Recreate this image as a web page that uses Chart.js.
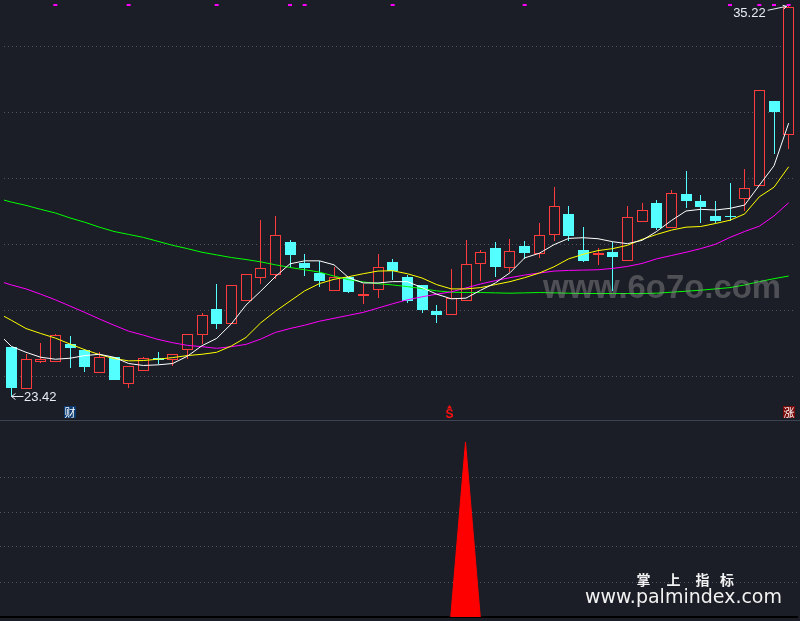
<!DOCTYPE html>
<html>
<head>
<meta charset="utf-8">
<script src="https://cdn.jsdelivr.net/npm/chart.js@4.4.0/dist/chart.umd.min.js"></script>
<style>
    html, body { margin: 0; padding: 0; background: #1b1e26; }
    #wrap { width: 800px; height: 621px; overflow: hidden; }
    canvas { display: block; }
    #sep { height: 1px; background: #3d4451; }
</style>
</head>
<body>
<div id="wrap">
    <canvas id="priceChart" width="800" height="420"></canvas>
    <div id="sep"></div>
    <canvas id="signalChart" width="800" height="200"></canvas>
</div>
<script>
const BG = '#1b1e26';
const UP = '#ff3c3c';
const DOWN = '#54ffff';
const GRID = '#50555f';

// daily candles, oldest first
const opens  = [24.89, 23.64, 24.45, 24.45, 24.98, 24.80, 24.10, 24.59, 23.77, 24.17,
                24.56, 24.50, 24.82, 25.27, 26.05, 25.60, 26.28, 26.99, 27.08, 28.09,
                27.44, 27.15, 26.61, 27.01, 26.46, 26.64, 27.48, 27.03, 26.79, 25.99,
                25.86, 26.28, 27.41, 27.91, 27.29, 27.97, 27.71, 28.30, 28.93, 27.83,
                27.69, 27.77, 27.50, 28.69, 29.26, 28.50, 29.53, 29.32, 28.87, 28.87,
                29.37, 29.79, 32.35, 31.31];
const closes = [23.67, 24.53, 24.55, 25.25, 24.87, 24.28, 24.59, 23.89, 24.32, 24.56,
                24.51, 24.70, 25.28, 25.86, 25.61, 26.78, 27.11, 27.29, 28.30, 27.69,
                27.28, 26.90, 27.02, 26.56, 26.52, 27.32, 27.21, 26.30, 26.03, 25.88,
                26.38, 27.41, 27.77, 27.31, 27.82, 27.76, 28.30, 29.16, 28.25, 27.52,
                27.74, 27.63, 28.84, 29.04, 28.50, 29.55, 29.33, 29.15, 28.73, 28.84,
                29.73, 32.70, 32.03, 35.20];
const highs  = [24.90, 24.68, 25.02, 25.29, 25.22, 24.83, 24.74, 24.59, 24.32, 24.59,
                24.74, 24.70, 25.28, 25.93, 26.82, 26.78, 27.11, 28.75, 28.88, 28.15,
                27.71, 27.51, 27.33, 27.01, 26.81, 27.71, 27.57, 27.09, 26.79, 26.17,
                27.27, 28.13, 27.85, 28.09, 28.16, 28.12, 28.67, 29.74, 29.17, 28.54,
                27.91, 28.09, 29.17, 29.26, 29.35, 29.65, 30.24, 29.50, 29.32, 29.88,
                30.30, 32.70, 32.35, 35.22];
const lows   = [23.42, 23.64, 24.42, 24.45, 24.25, 24.13, 24.10, 23.89, 23.65, 24.17,
                24.40, 24.32, 24.54, 24.99, 25.44, 25.60, 26.28, 26.80, 26.97, 27.32,
                27.04, 26.71, 26.61, 26.53, 26.21, 26.37, 26.94, 26.24, 25.94, 25.64,
                25.86, 26.28, 26.89, 27.03, 27.17, 27.58, 27.59, 28.10, 28.11, 27.46,
                27.37, 26.59, 27.50, 28.69, 28.44, 28.50, 29.12, 28.67, 28.67, 28.73,
                29.01, 29.79, 30.74, 30.90];

// moving averages: first value is where the line enters at the left edge, then one per candle
const ma5  = [25.14, 24.92, 24.74, 24.59, 24.53, 24.56, 24.64, 24.68, 24.59, 24.40, 24.34,
              24.36, 24.40, 24.62, 24.94, 25.16, 25.60, 26.17, 26.59, 27.03, 27.42,
              27.51, 27.51, 27.39, 27.00, 26.84, 26.84, 26.88, 26.88, 26.70, 26.50,
              26.36, 26.38, 26.62, 26.84, 27.15, 27.60, 27.74, 28.00, 28.19, 28.21,
              28.18, 28.09, 28.03, 28.13, 28.40, 28.73, 29.02, 29.07, 29.05, 29.10,
              29.20, 29.80, 30.39, 31.68];
const ma10 = [25.83, 25.71, 25.46, 25.31, 25.17, 24.99, 24.82, 24.67, 24.55, 24.48, 24.49,
              24.53, 24.58, 24.64, 24.68, 24.74, 24.93, 25.19, 25.63, 25.98, 26.29,
              26.60, 26.82, 26.95, 27.03, 27.12, 27.20, 27.21, 27.12, 26.99, 26.79,
              26.66, 26.66, 26.70, 26.79, 26.88, 27.00, 27.14, 27.33, 27.57, 27.71,
              27.82, 27.88, 27.98, 28.16, 28.31, 28.44, 28.53, 28.55, 28.64, 28.74,
              28.93, 29.45, 29.74, 30.36];
const ma20 = [26.85, 26.78, 26.66, 26.50, 26.33, 26.14, 25.95, 25.75, 25.56, 25.38, 25.26,
              25.13, 25.03, 24.95, 24.91, 24.86, 24.91, 24.98, 25.14, 25.34, 25.46,
              25.56, 25.68, 25.77, 25.86, 25.95, 26.08, 26.21, 26.33, 26.42, 26.50,
              26.57, 26.69, 26.81, 26.91, 27.00, 27.08, 27.14, 27.20, 27.22, 27.23,
              27.24, 27.28, 27.34, 27.43, 27.57, 27.67, 27.77, 27.88, 28.01, 28.22,
              28.40, 28.56, 28.87, 29.27];
const ma60 = [29.35, 29.29, 29.19, 29.07, 28.96, 28.81, 28.68, 28.53, 28.40, 28.31, 28.22,
              28.10, 27.98, 27.88, 27.77, 27.69, 27.61, 27.55, 27.48, 27.39, 27.31,
              27.24, 27.17, 27.05, 26.94, 26.87, 26.82, 26.78, 26.73, 26.67, 26.60,
              26.56, 26.55, 26.55, 26.54, 26.53, 26.54, 26.55, 26.54, 26.53, 26.52,
              26.52, 26.52, 26.52, 26.52, 26.53, 26.56, 26.59, 26.62, 26.66, 26.70,
              26.78, 26.88, 26.97, 27.05];

// candles whose magenta marker sits clipped at the top edge
const topMarks = [3, 8, 14, 19, 20, 26, 35, 49, 51, 52, 53];

// lower pane signal
const signalIdx  = [30, 31, 32];
const signalVals = [0, 5, 0];

// small tags under the candles
const tags = [
    { idx: 4, text: '财', box: '#0b3a70' },
    { idx: 53, text: '涨', box: '#7a0a0a' }
];
const sellIdx = 30;

const PRICE_MIN = 22.81, PRICE_MAX = 35.29;

const isUp = closes.map((c, i) => c >= opens[i]);
const candleColor = isUp.map(u => u ? UP : DOWN);

function maPoints(arr) {
    return arr.map((v, k) => ({ x: k === 0 ? -0.5 : k - 1, y: v }));
}

function lineSet(arr, color) {
    return { type: 'line', data: maPoints(arr), borderColor: color, borderWidth: 1,
             pointRadius: 0, tension: 0, fill: false, order: 2 };
}

const xAxis = () => ({ type: 'linear', min: -0.5, max: opens.length - 0.5, display: false, offset: false });

// keep candle edges on whole pixels so the thin outlines stay sharp
const snapBars = {
    id: 'snapBars',
    afterDatasetsUpdate(chart) {
        chart.data.datasets.forEach((ds, di) => {
            const meta = chart.getDatasetMeta(di);
            if (meta.type !== 'bar') return;
            meta.data.forEach(el => {
                el.x = Math.floor(el.x) + 0.5;
                el.y = Math.round(el.y);
                el.base = Math.round(el.base);
                if (el.base === el.y) el.base += 1;
            });
        });
    }
};

const priceLabels = {
    id: 'priceLabels',
    afterDatasetsDraw(chart) {
        const { ctx, scales: { x, y } } = chart;
        ctx.save();

        // watermark
        ctx.font = 'bold 34px "Liberation Sans", Arial, sans-serif';
        ctx.fillStyle = 'rgba(150,150,150,0.42)';
        ctx.textBaseline = 'alphabetic';
        ctx.textAlign = 'left';
        ctx.fillText('www.6o7o.com', 543, 298, 238);

        ctx.strokeStyle = '#e6edf5';
        ctx.fillStyle = '#e6edf5';
        ctx.lineWidth = 1;
        ctx.font = '13px "Liberation Sans", Arial, sans-serif';
        ctx.textBaseline = 'middle';

        // lowest low
        const lo = Math.min(...lows), loIdx = lows.indexOf(lo);
        const lx = Math.floor(x.getPixelForValue(loIdx)) + 0.5, ly = Math.round(y.getPixelForValue(lo)) + 0.5;
        ctx.beginPath();
        ctx.moveTo(lx, ly); ctx.lineTo(lx + 12, ly);
        ctx.moveTo(lx + 4, ly - 3); ctx.lineTo(lx, ly); ctx.lineTo(lx + 4, ly + 3);
        ctx.stroke();
        ctx.fillText(lo.toFixed(2), lx + 12.5, ly + 0.5);

        // highest high
        const hi = Math.max(...highs), hiIdx = highs.indexOf(hi);
        const hx = x.getPixelForValue(hiIdx), hy = y.getPixelForValue(hi);
        ctx.beginPath();
        ctx.moveTo(hx - 21, hy + 4); ctx.lineTo(hx - 2, hy);
        ctx.moveTo(hx - 6, hy - 1); ctx.lineTo(hx - 2, hy); ctx.lineTo(hx - 5, hy + 3);
        ctx.stroke();
        ctx.textAlign = 'right';
        ctx.fillText(hi.toFixed(2), hx - 23, hy + 7);

        // tags
        ctx.textAlign = 'center';
        ctx.font = '11px "Noto Sans CJK SC", sans-serif';
        tags.forEach(t => {
            const tx = Math.round(x.getPixelForValue(t.idx));
            ctx.fillStyle = t.box;
            ctx.fillRect(tx - 6, 406, 12, 12);
            ctx.fillStyle = '#ffffff';
            ctx.fillText(t.text, tx, 412.5);
        });

        // sell mark
        const sx = Math.round(x.getPixelForValue(sellIdx)) - 1.5;
        ctx.fillStyle = '#ff1010';
        ctx.beginPath();
        ctx.moveTo(sx, 405); ctx.lineTo(sx + 2.5, 408.5); ctx.lineTo(sx - 2.5, 408.5);
        ctx.closePath(); ctx.fill();
        ctx.font = 'bold 12px "Liberation Sans", Arial, sans-serif';
        ctx.fillText('S', sx, 414.5);
        ctx.restore();
    }
};

new Chart(document.getElementById('priceChart'), {
    type: 'bar',
    data: {
        datasets: [
            { type: 'bar', data: highs.map((h, i) => ({ x: i, y: [lows[i], h] })),
              backgroundColor: candleColor, barThickness: 1, grouped: false,
              inflateAmount: 0, order: 4 },
            { type: 'bar', data: opens.map((o, i) => ({ x: i, y: [o, closes[i]] })),
              backgroundColor: isUp.map(u => u ? BG : DOWN), borderColor: candleColor,
              borderWidth: isUp.map(u => u ? 1 : 0), borderSkipped: false,
              barThickness: 11, grouped: false, inflateAmount: 0, order: 3 },
            lineSet(ma5, '#ffffff'),
            lineSet(ma10, '#ffff00'),
            lineSet(ma20, '#ff00ff'),
            lineSet(ma60, '#00ff00'),
            { type: 'line', data: topMarks.map(i => ({ x: i, y: PRICE_MAX })), showLine: false,
              pointStyle: 'rect', pointRadius: 2.8, pointBackgroundColor: '#ff00ff',
              pointBorderWidth: 0, order: 1 }
        ]
    },
    options: {
        responsive: false,
        animation: false,
        devicePixelRatio: 1,
        layout: { padding: { left: 0, right: 2, top: 0, bottom: 0 } },
        plugins: { legend: { display: false }, tooltip: { enabled: false } },
        scales: {
            x: xAxis(),
            y: {
                min: PRICE_MIN, max: PRICE_MAX, position: 'right',
                ticks: { display: false, stepSize: 2, includeBounds: false },
                grid: { color: GRID, drawTicks: false, lineWidth: 1 },
                border: { display: false, dash: [1, 3] },
                afterFit(s) { s.width = 0; }
            }
        }
    },
    plugins: [snapBars, priceLabels]
});

const brand = {
    id: 'brand',
    afterDraw(chart) {
        const { ctx } = chart;
        ctx.save();
        ctx.fillStyle = '#f2f2f2';
        ctx.textBaseline = 'middle';
        ctx.textAlign = 'center';
        ctx.font = 'bold 14px "Noto Sans CJK SC", sans-serif';
        [['掌', 643.5], ['上', 673.5], ['指', 702.5], ['标', 727]].forEach(([c, cx]) => ctx.fillText(c, cx, 158.5));
        ctx.textAlign = 'left';
        ctx.textBaseline = 'alphabetic';
        ctx.font = '19px "DejaVu Sans", sans-serif';
        ctx.fillText('www.palmindex.com', 585, 181.5, 200);
        ctx.restore();
    }
};

new Chart(document.getElementById('signalChart'), {
    type: 'line',
    data: {
        datasets: [{
            data: signalIdx.map((x, k) => ({ x, y: signalVals[k] })),
            borderColor: '#ff0000', backgroundColor: '#ff0000', borderWidth: 1,
            pointRadius: 0, tension: 0, fill: 'origin'
        }]
    },
    options: {
        responsive: false,
        animation: false,
        devicePixelRatio: 1,
        layout: { padding: { left: 0, right: 2, top: 0, bottom: 4 } },
        plugins: { legend: { display: false }, tooltip: { enabled: false } },
        scales: {
            x: xAxis(),
            y: {
                min: 0, max: 5.6,
                ticks: { display: false, stepSize: 1, includeBounds: false },
                grid: {
                    drawTicks: false,
                    color: c => c.tick.value === 0 ? '#000000' : (c.tick.value <= 4 ? GRID : 'rgba(0,0,0,0)'),
                    lineWidth: c => c.tick.value === 0 ? 2 : 1
                },
                border: { display: false, dash: c => (c.tick && c.tick.value === 0) ? [] : [1, 3] },
                afterFit(s) { s.width = 0; }
            }
        }
    },
    plugins: [brand]
});
</script>
</body>
</html>
